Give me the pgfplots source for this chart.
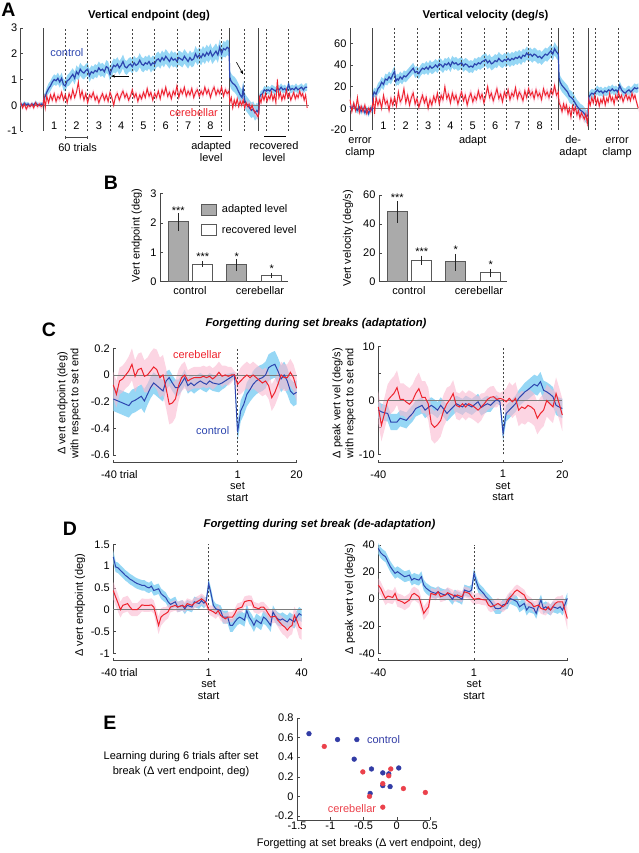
\documentclass[border=0pt]{standalone}
\usepackage{fontspec}
\setmainfont{Liberation Sans}
\usepackage{pgfplots}
\usepackage{pgfplotstable}
\pgfplotsset{compat=1.18}
\usepgfplotslibrary{fillbetween}
\usetikzlibrary{arrows.meta}

\definecolor{cblue}{RGB}{45,70,175}
\definecolor{cred}{RGB}{238,35,45}
\definecolor{bband}{RGB}{150,215,245}
\definecolor{rband}{RGB}{250,185,208}
\definecolor{zgray}{RGB}{125,125,125}
\definecolor{axgray}{RGB}{70,70,70}
\definecolor{bargray}{RGB}{170,170,170}
\definecolor{dblue}{RGB}{50,60,165}
\definecolor{dred}{RGB}{235,65,75}

\newcommand\fs{\fontsize{11}{13}\selectfont}
\newcommand\fst{\fontsize{11.3}{13}\selectfont\bfseries}
\newcommand\fsl{\fontsize{19.5}{20}\selectfont\bfseries}

\pgfplotsset{
  mine/.style={
    scale only axis, clip=false, anchor=south west,
    axis line style={draw=axgray, line width=0.6pt},
    every tick/.style={draw=axgray, line width=0.5pt},
    major tick length=2.5pt, minor tick length=2.5pt, tick align=inside,
    tick label style={font=\fs},
    /pgf/number format/assume math mode=true,
    axis y line*=left, axis x line*=bottom,
    label style={font=\fs},
  },
}
\newcommand\band[3]{%
  \addplot[name path=#3u, draw=none, forget plot] table[x=x, y expr=\thisrow{y}+\thisrow{e}]{#1};
  \addplot[name path=#3l, draw=none, forget plot] table[x=x, y expr=\thisrow{y}-\thisrow{e}]{#1};
  \addplot[#2, draw=none, forget plot] fill between[of=#3u and #3l];}

\begin{document}
% ---------------- Panel A data ----------------
\pgfplotstableread[row sep=\\]{
x y e\\
0 .05 .08\\5 0 .08\\10 .08 .08\\15 .02 .08\\20 .05 .08\\25 -.03 .08\\30 .05 .08\\35 0 .08\\40 .1 .08\\45 .02 .08\\50 0 .08\\55 .05 .08\\60 0 .08\\
62 .25 .15\\66 .35 .15\\70 .5 .18\\75 .65 .2\\80 .75 .2\\85 .9 .2\\90 1.0 .2\\95 .95 .2\\100 1.05 .22\\105 .9 .22\\110 1.05 .22\\115 .8 .22\\120 .75 .22\\125 .95 .22\\130 1.0 .24\\135 1.1 .24\\140 1.2 .24\\145 1.05 .24\\
150 1.3 .25\\155 1.2 .25\\160 1.4 .25\\165 1.3 .25\\170 1.25 .25\\175 1.35 .25\\180 1.4 .25\\185 1.15 .25\\190 1.3 .25\\195 1.25 .25\\200 1.35 .25\\205 1.3 .25\\210 1.45 .25\\215 1.35 .25\\220 1.4 .25\\225 1.3 .25\\230 1.5 .25\\235 1.45 .25\\240 1.2 .25\\
245 1.4 .27\\250 1.55 .27\\255 1.5 .27\\260 1.6 .27\\265 1.45 .27\\270 1.55 .27\\275 1.7 .27\\280 1.5 .27\\285 1.45 .27\\290 1.55 .27\\295 1.6 .27\\300 1.5 .27\\305 1.65 .27\\310 1.55 .27\\315 1.6 .27\\320 1.75 .27\\325 1.6 .27\\330 1.55 .27\\335 1.65 .27\\340 1.6 .27\\345 1.7 .27\\
350 1.55 .28\\355 1.65 .28\\360 1.6 .28\\365 1.75 .28\\370 1.8 .28\\375 1.7 .28\\380 1.85 .28\\385 1.75 .28\\390 1.9 .28\\395 1.8 .28\\400 1.7 .28\\405 1.85 .28\\410 1.75 .28\\415 1.8 .28\\420 1.7 .28\\425 1.85 .28\\430 1.8 .28\\435 1.75 .28\\440 1.9 .28\\445 1.8 .28\\450 1.7 .28\\455 1.85 .28\\460 1.75 .28\\465 1.8 .28\\
470 2.0 .3\\475 1.85 .3\\480 1.95 .3\\485 1.85 .3\\490 2.0 .3\\495 1.9 .3\\500 2.05 .3\\505 1.95 .3\\510 2.1 .3\\515 1.9 .3\\520 2.0 .3\\525 2.1 .3\\530 1.95 .3\\535 2.25 .3\\540 2.0 .3\\545 2.2 .3\\550 2.15 .3\\555 2.25 .3\\560 2.2 .3\\
562 1.1 .3\\565 .95 .3\\570 .85 .3\\575 .8 .3\\580 .7 .3\\585 .55 .3\\590 .4 .3\\595 .3 .3\\598 .65 .3\\602 .2 .3\\605 .1 .3\\610 0 .3\\615 -.1 .3\\620 -.2 .3\\625 -.15 .3\\630 -.3 .3\\635 -.2 .3\\640 -.3 .3\\
642 .3 .15\\645 .4 .15\\650 .45 .15\\655 .6 .15\\660 .55 .15\\665 .6 .15\\670 .55 .15\\675 .65 .15\\680 .6 .15\\685 .55 .15\\690 .65 .15\\695 .6 .15\\700 .7 .15\\705 .6 .15\\710 .65 .15\\715 .55 .15\\720 .8 .15\\725 .6 .15\\730 .65 .15\\735 .6 .15\\740 .7 .15\\745 .6 .15\\750 .65 .15\\755 .7 .15\\760 .6 .15\\765 .7 .15\\770 .7 .15\\
}\AEB
\pgfplotstableread[row sep=\\]{
x y e\\
0 .1 .1\\5 -.1 .1\\10 .05 .1\\15 -.15 .1\\20 0 .1\\25 -.05 .1\\30 .05 .1\\35 -.1 .1\\40 .1 .1\\45 -.05 .1\\50 .05 .1\\55 -.05 .1\\60 0 .1\\
63 .3 .13\\66 -.1 .13\\70 .35 .13\\75 .1 .13\\80 .4 .13\\85 .2 .13\\90 .45 .13\\95 .15 .13\\100 .35 .13\\105 .25 .13\\110 .5 .13\\115 .2 .13\\120 .4 .13\\125 .1 .13\\130 .45 .13\\135 .25 .13\\140 .6 .13\\145 .3 .13\\150 .5 .13\\155 .9 .13\\160 .3 .13\\165 .55 .13\\170 .2 .13\\175 .45 .13\\180 .1 .13\\185 .4 .13\\190 .3 .13\\195 .5 .13\\200 .2 .13\\205 .35 .13\\210 .1 .13\\215 .3 .13\\220 .45 .13\\225 .2 .13\\230 .4 .13\\235 .15 .13\\240 .5 .13\\245 .3 .13\\250 0 .13\\
255 .35 .13\\260 .45 .13\\265 .2 .13\\270 .4 .13\\275 .55 .13\\280 .3 .13\\285 .45 .13\\290 .2 .13\\295 .35 .13\\300 .6 .13\\305 .3 .13\\310 .45 .13\\315 .15 .13\\320 .4 .13\\325 .25 .13\\330 .5 .13\\335 .3 .13\\340 .65 .13\\345 .35 .13\\350 .5 .13\\355 .2 .13\\360 .45 .13\\365 .3 .13\\370 .55 .13\\375 .25 .13\\380 .6 .13\\385 .4 .13\\390 .7 .13\\395 .35 .13\\400 .5 .13\\
405 .25 .13\\410 .55 .13\\415 .4 .13\\420 .75 .13\\425 .3 .13\\430 .6 .13\\435 .45 .13\\440 .7 .13\\445 .35 .13\\450 .55 .13\\455 .4 .13\\460 .65 .13\\465 .3 .13\\470 .5 .13\\475 .6 .13\\480 .35 .13\\485 .55 .13\\490 .4 .13\\495 .7 .13\\500 .45 .13\\505 .6 .13\\510 .3 .13\\515 .55 .13\\520 .7 .13\\525 .4 .13\\530 .6 .13\\535 .45 .13\\540 .7 .13\\545 .35 .13\\550 .6 .13\\555 .45 .13\\560 .55 .13\\
562 .1 .13\\566 .3 .13\\570 -.1 .13\\574 .2 .13\\578 0 .13\\582 .25 .13\\586 -.05 .13\\590 .15 .13\\594 0 .13\\598 .2 .13\\602 -.1 .13\\606 .1 .13\\610 -.05 .13\\614 .05 .13\\618 -.15 .13\\622 0 .13\\626 -.2 .13\\630 -.25 .13\\634 -.35 .13\\638 -.45 .13\\640 -.3 .13\\
642 .3 .12\\646 .1 .12\\650 .4 .12\\654 .2 .12\\658 .45 .12\\662 .15 .12\\666 .35 .12\\670 .25 .12\\674 .5 .12\\678 .2 .12\\682 .4 .12\\686 .1 .12\\690 1.0 .12\\694 .3 .12\\698 .5 .12\\702 .2 .12\\706 .4 .12\\710 .25 .12\\714 .6 .12\\718 .3 .12\\722 .45 .12\\726 .2 .12\\730 .35 .12\\734 .5 .12\\738 .25 .12\\742 .4 .12\\746 .3 .12\\750 .55 .12\\754 .35 .12\\758 .45 .12\\762 .2 .12\\766 .4 .12\\770 -.1 .12\\
}\AER
\pgfplotstableread[row sep=\\]{
x y e\\
0 2 3\\5 -1 3\\10 3 3\\15 0 3\\20 -2 3\\25 1 3\\30 -3 3\\35 0 3\\40 -4 3\\45 -1 3\\50 -5 3\\55 0 3\\60 -2 3\\
62 12 4\\65 15 4\\70 13 5\\75 18 5\\80 20 5\\85 24 5\\90 22 5\\95 27 5\\100 26 5\\105 29 5\\110 27 5\\115 31 5\\120 34 5\\123 25 5\\127 27 5\\130 26 5\\135 29 5\\140 27 5\\145 30 5\\150 29 5\\155 31 5\\160 33 5\\165 35 5\\170 37 5\\175 33 5\\180 34 5\\185 32 5\\190 35 5\\195 37 5\\200 36 5\\
205 38 5.5\\210 36 5.5\\215 39 5.5\\220 37 5.5\\225 38 5.5\\230 40 5.5\\235 38 5.5\\240 41 5.5\\245 40 5.5\\250 38 5.5\\255 41 5.5\\260 40 5.5\\265 42 5.5\\270 39 5.5\\275 43 5.5\\280 41 5.5\\285 42 5.5\\290 40 5.5\\295 41 5.5\\300 42 5.5\\305 39 5.5\\310 41 5.5\\315 40 5.5\\320 38 5.5\\325 39 5.5\\330 38 5.5\\335 41 5.5\\340 40 5.5\\345 42 5.5\\350 41 5.5\\
355 43 6\\360 44 6\\365 45 6\\370 42 6\\375 44 6\\380 41 6\\385 42 6\\390 44 6\\395 43 6\\400 46 6\\405 44 6\\410 43 6\\415 45 6\\420 44 6\\425 46 6\\430 44 6\\435 46 6\\440 45 6\\445 47 6\\450 46 6\\455 48 6\\460 46 6\\465 49 6\\470 48 6\\475 51 6\\480 49 6\\485 50 6\\490 48 6\\495 50 6\\500 49 6\\505 47 6\\510 48 6\\515 46 6\\520 48 6\\525 50 6\\530 49 6\\535 51 6\\540 53 6\\545 50 6\\550 55 6\\555 52 6\\560 50 6\\
562 28 6\\565 24 6\\570 21 6\\575 19 6\\580 17 6\\585 15 6\\590 11 6\\595 10 6\\600 8 6\\605 5 6\\610 2 6\\615 0 6\\620 -2 6\\625 -3 6\\630 -5 6\\635 -8 6\\640 -6 6\\
642 10 4\\645 12 4\\650 14 4\\655 13 4\\660 15 4\\665 17 4\\670 15 4\\675 16 4\\680 14 4\\685 16 4\\690 15 4\\695 17 4\\700 16 4\\705 18 4\\710 16 4\\715 17 4\\720 15 4\\725 21 4\\730 17 4\\735 15 4\\740 14 4\\745 16 4\\750 17 4\\755 15 4\\760 17 4\\765 19 4\\770 18 4\\775 19 4\\
}\AVB
\pgfplotstableread[row sep=\\]{
x y e\\
0 8 3\\5 -3 3\\10 5 3\\15 -2 3\\20 10 3\\25 -4 3\\30 2 3\\35 -3 3\\40 3 3\\45 -5 3\\50 0 3\\55 -3 3\\60 2 3\\
63 8 4\\66 -5 4\\70 10 4\\75 3 4\\80 8 4\\85 0 4\\90 12 4\\95 4 4\\100 7 4\\105 -2 4\\110 9 4\\115 3 4\\120 10 4\\125 2 4\\130 15 4\\135 6 4\\140 9 4\\145 18 4\\150 5 4\\155 12 4\\160 3 4\\165 10 4\\170 14 4\\175 4 4\\180 9 4\\185 1 4\\190 7 4\\195 12 4\\200 5 4\\205 10 4\\210 0 4\\215 8 4\\220 3 4\\225 11 4\\230 6 4\\235 14 4\\240 4 4\\245 12 4\\250 8 4\\
255 20 4\\260 9 4\\265 13 4\\270 5 4\\275 14 4\\280 8 4\\285 12 4\\290 4 4\\295 10 4\\300 15 4\\305 7 4\\310 12 4\\315 3 4\\320 10 4\\325 14 4\\330 6 4\\335 11 4\\340 8 4\\345 16 4\\350 9 4\\355 13 4\\360 5 4\\365 12 4\\370 20 4\\375 10 4\\380 14 4\\385 7 4\\390 12 4\\395 18 4\\400 9 4\\
405 13 4\\410 6 4\\415 15 4\\420 10 4\\425 17 4\\430 8 4\\435 14 4\\440 11 4\\445 19 4\\450 9 4\\455 15 4\\460 12 4\\465 7 4\\470 16 4\\475 10 4\\480 18 4\\485 12 4\\490 15 4\\495 9 4\\500 17 4\\505 11 4\\510 14 4\\515 8 4\\520 18 4\\525 12 4\\530 15 4\\535 10 4\\540 17 4\\545 13 4\\550 21 4\\555 12 4\\560 15 4\\
562 5 4\\566 2 4\\570 -3 4\\574 4 4\\578 -1 4\\582 3 4\\586 -5 4\\590 0 4\\594 -8 4\\598 2 4\\602 -3 4\\606 1 4\\610 -6 4\\614 -2 4\\618 -9 4\\622 -4 4\\626 -7 4\\630 -10 4\\634 -5 4\\638 -14 4\\640 -8 4\\
642 8 3\\646 3 3\\650 10 3\\654 5 3\\658 12 3\\662 4 3\\666 9 3\\670 2 3\\674 8 3\\678 5 3\\682 11 3\\686 3 3\\690 9 3\\694 6 3\\698 14 3\\702 7 3\\706 10 3\\710 4 3\\714 12 3\\718 8 3\\722 15 3\\726 9 3\\730 12 3\\734 6 3\\738 10 3\\742 13 3\\746 8 3\\750 11 3\\754 7 3\\758 14 3\\762 9 3\\766 12 3\\770 6 3\\775 0 3\\
}\AVR
% ---------------- Panel C data ----------------
\pgfplotstableread[row sep=\\]{
x y e\\
0 -.075 .1\\1 -.145 .1\\2 -.045 .1\\3 -.03 .1\\4 0 .1\\5 .03 .11\\6 .08 .12\\7 -.01 .12\\8 .04 .12\\9 .05 .12\\10 -.01 .12\\11 0 .13\\12 .03 .14\\13 .06 .14\\14 .04 .15\\15 -.02 .15\\16 0 .15\\17 -.1 .15\\18 -.22 .15\\19 -.21 .15\\20 -.18 .14\\21 -.08 .12\\22 -.02 .1\\23 0 .1\\24 -.045 .08\\25 -.03 .08\\26 -.02 .08\\27 -.02 .08\\28 -.02 .08\\29 -.01 .08\\30 -.02 .08\\31 -.01 .08\\32 -.03 .08\\33 -.01 .08\\34 .02 .08\\35 -.01 .08\\36 0 .07\\37 -.01 .07\\38 0 .06\\39 0 .03\\
40 -.07 .08\\41 -.045 .1\\42 -.02 .1\\43 0 .1\\44 -.02 .1\\45 0 .1\\46 -.02 .1\\47 -.04 .1\\48 -.06 .1\\49 -.045 .1\\50 -.08 .1\\51 -.17 .1\\52 -.13 .1\\53 -.07 .1\\54 0 .1\\55 -.02 .1\\56 -.02 .1\\57 .02 .1\\58 -.02 .1\\59 -.1 .1\\
}\CER
\pgfplotstableread[row sep=\\]{
x y e\\
0 -.18 .09\\1 -.19 .09\\2 -.2 .09\\3 -.21 .09\\4 -.22 .09\\5 -.23 .09\\6 -.2 .09\\7 -.19 .09\\8 -.175 .09\\9 -.16 .09\\10 -.195 .09\\11 -.145 .08\\12 -.095 .08\\13 -.06 .08\\14 -.08 .08\\15 -.1 .08\\16 -.12 .08\\17 -.045 .07\\18 -.02 .06\\19 -.06 .06\\20 -.095 .06\\21 -.095 .06\\22 -.06 .06\\23 -.02 .06\\24 -.08 .06\\25 -.06 .06\\26 -.08 .06\\27 -.06 .06\\28 -.045 .06\\29 -.06 .06\\30 -.07 .06\\31 -.045 .06\\32 -.06 .06\\33 -.065 .06\\34 -.07 .06\\35 -.06 .05\\36 -.045 .05\\37 -.03 .04\\38 -.015 .03\\39 0 .02\\
40 -.43 .07\\41 -.27 .08\\42 -.22 .08\\43 -.145 .09\\44 -.11 .09\\45 -.07 .1\\46 -.045 .1\\47 -.03 .1\\48 -.02 .1\\49 0 .1\\50 .055 .1\\51 .07 .1\\52 .08 .1\\53 .03 .1\\54 -.03 .1\\55 0 .1\\56 -.045 .1\\57 -.12 .09\\58 -.145 .09\\59 -.13 .09\\
}\CEB
\pgfplotstableread[row sep=\\]{
x y e\\
0 -1.2 3\\1 -4.6 3\\2 -2.4 3\\3 0 3\\4 .7 3.2\\5 1.3 3.2\\6 2.4 3.2\\7 .2 3\\8 .2 3\\9 -.3 3\\10 -.7 3\\11 0 3\\12 1.3 3\\13 2.2 3\\14 .6 3\\15 .6 3\\16 -.6 3\\17 -4.3 3\\18 -5 3\\19 -4.5 3\\20 -3.7 3\\21 -1.8 3\\22 -.6 3\\23 .2 2.5\\24 1.3 2.5\\25 -.9 2.5\\26 -1.2 2.5\\27 -.6 2.5\\28 -1.2 2.5\\29 -.6 2.5\\30 -.9 2.5\\31 -1.3 2.5\\32 -1.8 2.5\\33 -1.2 2.5\\34 -.6 2\\35 .2 2\\36 .6 2\\37 .7 2\\38 .2 1.5\\39 .4 1\\
40 .2 1.5\\41 -.25 2.5\\42 .4 3\\43 -.25 3\\44 .4 3\\45 -1.8 3\\46 -1.2 3\\47 -1.5 3\\48 -.9 3\\49 -1.2 3\\50 -1.7 3\\51 -3.3 3\\52 -2.4 3\\53 -1.8 3\\54 0 3\\55 -.6 3\\56 -1.2 3\\57 1.3 3\\58 -.6 3\\59 -2.7 3\\
}\CVR
\pgfplotstableread[row sep=\\]{
x y e\\
0 -1.8 1.5\\1 -2.1 1.5\\2 -2.3 1.5\\3 -2.4 1.5\\4 -4 1.5\\5 -4 1.5\\6 -4 1.5\\7 -3.3 1.5\\8 -3.5 1.5\\9 -3.7 1.5\\10 -3 1.5\\11 -2.4 1.5\\12 -1.5 1.5\\13 -1.2 1.5\\14 -.9 1.5\\15 -1.8 1.5\\16 -1.3 1.5\\17 -.9 1.5\\18 -1.3 1.5\\19 -1.8 1.5\\20 -.9 1.5\\21 -1.6 1.5\\22 -2.4 1.5\\23 -1.8 1.5\\24 -1.2 1.5\\25 -.6 1.5\\26 -.9 1.5\\27 -1.2 1.5\\28 -.6 1.5\\29 -.9 1.5\\30 -1.2 1.5\\31 -.7 1.5\\32 -.25 1.5\\33 -1.3 1.5\\34 -.9 1.5\\35 -.6 1.5\\36 -.9 1.2\\37 -.3 1\\38 .2 .8\\39 -.25 .6\\
40 -6.1 1.5\\41 -2.4 1.5\\42 -1.8 1.5\\43 -1.2 1.5\\44 -.6 1.5\\45 .4 1.5\\46 1 1.6\\47 1.6 1.7\\48 2 1.8\\49 2.5 1.8\\50 3 1.8\\51 2.7 1.8\\52 3.5 1.8\\53 1.9 1.8\\54 1.6 1.8\\55 1.2 1.8\\56 .7 1.8\\57 -.9 1.8\\58 -1.2 1.8\\59 -1.5 1.8\\
}\CVB
% ---------------- Panel D data ----------------
\pgfplotstableread[row sep=\\]{
x y e\\
0 1.21 .15\\1 .98 .12\\2 .96 .12\\3 .9 .12\\4 .85 .12\\5 .79 .12\\6 .75 .12\\7 .7 .12\\8 .67 .12\\9 .63 .12\\10 .6 .12\\11 .58 .12\\12 .56 .12\\13 .56 .12\\14 .52 .12\\15 .5 .12\\16 .54 .12\\17 .44 .12\\18 .46 .12\\19 .48 .12\\20 .37 .12\\21 .32 .12\\22 .28 .12\\23 .18 .12\\24 .12 .12\\25 .15 .12\\26 .18 .12\\27 .06 .12\\28 .08 .12\\29 .1 .12\\30 .02 .12\\31 .1 .12\\32 .08 .12\\33 .06 .12\\34 .18 .12\\35 .16 .12\\36 .14 .12\\37 .21 .12\\38 .15 .12\\39 .2 .1\\
40 .6 .12\\41 .37 .12\\42 .1 .12\\43 .02 .12\\44 0 .12\\45 -.02 .12\\46 -.17 .15\\47 -.17 .15\\48 -.17 .15\\49 -.36 .15\\50 -.36 .15\\51 -.28 .15\\52 -.21 .15\\53 -.17 .15\\54 -.2 .15\\55 -.24 .15\\56 -.02 .15\\57 -.17 .15\\58 -.25 .15\\59 -.36 .15\\60 -.24 .15\\61 -.28 .15\\62 -.32 .15\\63 -.17 .15\\64 -.21 .15\\65 -.28 .15\\66 -.36 .15\\67 -.05 .15\\68 -.15 .15\\69 -.21 .15\\70 -.24 .15\\71 -.21 .15\\72 -.25 .15\\73 -.28 .15\\74 -.21 .15\\75 -.25 .15\\76 -.28 .15\\77 -.17 .15\\78 -.09 .15\\79 -.13 .15\\
}\DEB
\pgfplotstableread[row sep=\\]{
x y e\\
0 .44 .2\\1 .29 .2\\2 .15 .2\\3 0 .18\\4 .1 .18\\5 .12 .18\\6 .14 .18\\7 .06 .18\\8 0 .15\\9 0 .15\\10 0 .15\\11 .05 .15\\12 .11 .15\\13 .1 .15\\14 .1 .15\\15 .1 .15\\16 .11 .15\\17 .06 .15\\18 -.15 .18\\19 -.36 .2\\20 -.17 .2\\21 -.12 .18\\22 -.09 .15\\23 -.05 .15\\24 .06 .12\\25 .08 .12\\26 .1 .12\\27 .06 .12\\28 .08 .12\\29 .1 .12\\30 .06 .12\\31 .14 .12\\32 .12 .12\\33 .1 .12\\34 .15 .12\\35 .18 .12\\36 .21 .12\\37 .25 .12\\38 .21 .12\\39 .15 .1\\
40 0 .1\\41 -.02 .12\\42 -.05 .12\\43 -.09 .12\\44 -.02 .12\\45 -.13 .12\\46 -.17 .12\\47 -.21 .12\\48 -.17 .12\\49 -.17 .12\\50 -.17 .12\\51 -.09 .12\\52 .02 .12\\53 .04 .12\\54 .06 .12\\55 .18 .12\\56 .2 .12\\57 .21 .12\\58 .2 .12\\59 .06 .12\\60 .04 .12\\61 .02 .12\\62 .06 .12\\63 .06 .12\\64 0 .12\\65 -.09 .15\\66 -.17 .15\\67 -.16 .15\\68 -.15 .15\\69 -.24 .15\\70 -.3 .18\\71 -.36 .2\\72 -.4 .2\\73 -.47 .2\\74 -.4 .2\\75 -.36 .2\\76 -.13 .2\\77 -.25 .2\\78 -.4 .25\\79 -.44 .25\\
}\DER
\pgfplotstableread[row sep=\\]{
x y e\\
0 37.4 4\\1 34.2 4\\2 32.5 4\\3 31.3 4\\4 27.6 4\\5 24 4\\6 21.4 4\\7 19 4\\8 20.2 4\\9 19 4\\10 17.7 4\\11 16.5 4\\12 17 4\\13 17.7 4\\14 14 4\\15 15.3 4\\16 14.5 4\\17 14 4\\18 16.5 4\\19 10.3 4\\20 8 4\\21 6.7 4\\22 5.4 4\\23 4.8 4\\24 4.2 4\\25 5.4 4\\26 4.2 4\\27 3.5 4\\28 3 4\\29 4.2 4\\30 2 4\\31 -.2 4\\32 3 4\\33 1.7 4\\34 1 4\\35 -.2 4\\36 6.7 4\\37 6 4\\38 5.4 4\\39 6.7 4\\
40 19 4\\41 12.8 4\\42 7.9 4\\43 6 4\\44 4.2 4\\45 1.7 4\\46 0 4\\47 -2 4\\48 -4.4 4\\49 -6.9 4\\50 -7 4\\51 -6.9 4\\52 -4.4 4\\53 -3.8 4\\54 -3.2 4\\55 .5 4\\56 -.2 4\\57 -1 4\\58 -2 4\\59 -5.7 4\\60 -4.5 4\\61 -3.2 4\\62 -8.1 4\\63 -5.7 4\\64 -6.3 4\\65 -6.9 4\\66 -10.6 4\\67 -5 4\\68 -.7 4\\69 -6.9 4\\70 -5.7 4\\71 -7 4\\72 -8.1 4\\73 -5.7 4\\74 -6.3 4\\75 -6.9 4\\76 -5.7 4\\77 -8.1 4\\78 -4 4\\79 .5 4\\
}\DVB
\pgfplotstableread[row sep=\\]{
x y e\\
0 10.3 5\\1 7.9 5\\2 4 5\\3 .5 5\\4 2.2 5\\5 1.7 5\\6 1.2 5\\7 4.2 5\\8 -.7 5\\9 -1.3 5\\10 -2 5\\11 -3.2 5\\12 -2 5\\13 -.7 5\\14 3 5\\15 4.2 5\\16 3 5\\17 1.7 5\\18 -4.4 5\\19 -10.6 5\\20 -8 5\\21 -5.7 5\\22 4.2 4\\23 3.6 4\\24 3 4\\25 5.4 4\\26 1.7 4\\27 2.3 4\\28 3 4\\29 4.7 4\\30 3.8 4\\31 3 4\\32 1.7 4\\33 3 4\\34 2.3 4\\35 1.7 4\\36 5.4 4\\37 4.8 4\\38 4.2 4\\39 1.7 4\\
40 -.2 4\\41 .2 4\\42 .5 4\\43 -.2 4\\44 -.5 4\\45 -.7 4\\46 -4.4 4\\47 -5.7 4\\48 -5 4\\49 -4.4 4\\50 -3.2 4\\51 -4.5 4\\52 -5.7 4\\53 -4.4 4\\54 -.7 4\\55 1.2 4\\56 3 4\\57 5.4 4\\58 6.7 4\\59 5.5 4\\60 4.2 4\\61 3 4\\62 -.7 4\\63 -2 4\\64 -3.2 4\\65 -5.7 4\\66 -5 4\\67 -4.4 4\\68 -6.9 4\\69 -7.5 4\\70 -8.1 4\\71 -5.7 4\\72 -8.1 4\\73 -5.5 4\\74 -3.2 4\\75 -2 4\\76 -2 4\\77 -2 5\\78 -8.1 6\\79 -14.3 8\\
}\DVR

\begin{tikzpicture}[x=1pt,y=1pt]

% ================= A left =================
\begin{axis}[mine, at={(20.7pt,722pt)}, width=288.3pt, height=103pt,
  xmin=0, xmax=775, ymin=-1, ymax=3, axis x line=none, ytick={-1,0,1,2,3}]
\band{\AEB}{fill=bband}{aeb}
\band{\AER}{fill=rband, fill opacity=0.7}{aer}
\addplot[zgray, line width=0.6pt] coordinates {(0,0) (775,0)};
\draw[axgray, line width=0.7pt] (axis cs:60,-1) -- (axis cs:60,3) (axis cs:560,-1) -- (axis cs:560,3) (axis cs:640,-1) -- (axis cs:640,3);
\draw[axgray, line width=0.6pt, dash pattern=on 2pt off 2pt] (axis cs:120,-1) -- (axis cs:120,3) (axis cs:180,-1) -- (axis cs:180,3) (axis cs:240,-1) -- (axis cs:240,3) (axis cs:300,-1) -- (axis cs:300,3) (axis cs:360,-1) -- (axis cs:360,3) (axis cs:420,-1) -- (axis cs:420,3) (axis cs:480,-1) -- (axis cs:480,3) (axis cs:540,-1) -- (axis cs:540,3) (axis cs:600,-1) -- (axis cs:600,3) (axis cs:660,-1) -- (axis cs:660,3) (axis cs:720,-1) -- (axis cs:720,3);
\addplot[cblue, line width=1.2pt] table[x=x,y=y]{\AEB};
\addplot[cred, line width=0.9pt] table[x=x,y=y]{\AER};
\node[font=\fs, anchor=base] at (axis cs:90,-0.96) {1};
\node[font=\fs, anchor=base] at (axis cs:150,-0.96) {2};
\node[font=\fs, anchor=base] at (axis cs:210,-0.96) {3};
\node[font=\fs, anchor=base] at (axis cs:270,-0.96) {4};
\node[font=\fs, anchor=base] at (axis cs:330,-0.96) {5};
\node[font=\fs, anchor=base] at (axis cs:390,-0.96) {6};
\node[font=\fs, anchor=base] at (axis cs:450,-0.96) {7};
\node[font=\fs, anchor=base] at (axis cs:510,-0.96) {8};
\draw[axgray, line width=0.6pt] (axis cs:120,-1.19) -- (axis cs:120,-1.31) (axis cs:120,-1.25) -- (axis cs:180,-1.25) (axis cs:180,-1.19) -- (axis cs:180,-1.31);
\node[font=\fs, anchor=base] at (axis cs:153,-1.79) {60 trials};
\draw[black, line width=1.2pt] (axis cs:482,-1.21) -- (axis cs:540,-1.21);
\node[font=\fs, anchor=base] at (axis cs:512,-1.72) {adapted};
\node[font=\fs, anchor=base] at (axis cs:512,-2.17) {level};
\draw[black, line width=1.2pt] (axis cs:655,-1.21) -- (axis cs:713,-1.21);
\node[font=\fs, anchor=base] at (axis cs:681,-1.72) {recovered};
\node[font=\fs, anchor=base] at (axis cs:681,-2.17) {level};
\node[font=\fs, text=cblue] at (axis cs:124,2.03) {control};
\node[font=\fs, text=cred] at (axis cs:465,-0.3) {cerebellar};
\draw[-{Stealth[length=4pt,width=3pt]}, black, line width=0.6pt] (axis cs:290,1.13) -- (axis cs:243,1.13);
\draw[-{Stealth[length=4pt,width=3pt]}, black, line width=0.6pt] (axis cs:580,1.67) -- (axis cs:598,1.2);
\end{axis}

% ================= A right =================
\begin{axis}[mine, at={(350pt,723pt)}, width=288.3pt, height=101.9pt,
  xmin=0, xmax=775, ymin=-20, ymax=74, axis x line=none, ytick={-20,0,20,40,60}]
\band{\AVB}{fill=bband}{avb}
\band{\AVR}{fill=rband, fill opacity=0.7}{avr}
\addplot[zgray, line width=0.6pt] coordinates {(0,0) (775,0)};
\draw[axgray, line width=0.7pt] (axis cs:60,-20) -- (axis cs:60,74) (axis cs:560,-20) -- (axis cs:560,74) (axis cs:640,-20) -- (axis cs:640,74);
\draw[axgray, line width=0.6pt, dash pattern=on 2pt off 2pt] (axis cs:120,-20) -- (axis cs:120,74) (axis cs:180,-20) -- (axis cs:180,74) (axis cs:240,-20) -- (axis cs:240,74) (axis cs:300,-20) -- (axis cs:300,74) (axis cs:360,-20) -- (axis cs:360,74) (axis cs:420,-20) -- (axis cs:420,74) (axis cs:480,-20) -- (axis cs:480,74) (axis cs:540,-20) -- (axis cs:540,74) (axis cs:600,-20) -- (axis cs:600,74) (axis cs:660,-20) -- (axis cs:660,74) (axis cs:720,-20) -- (axis cs:720,74);
\addplot[cblue, line width=1.2pt] table[x=x,y=y]{\AVB};
\addplot[cred, line width=0.9pt] table[x=x,y=y]{\AVR};
\node[font=\fs, anchor=base] at (axis cs:90,-19.4) {1};
\node[font=\fs, anchor=base] at (axis cs:150,-19.4) {2};
\node[font=\fs, anchor=base] at (axis cs:210,-19.4) {3};
\node[font=\fs, anchor=base] at (axis cs:270,-19.4) {4};
\node[font=\fs, anchor=base] at (axis cs:330,-19.4) {5};
\node[font=\fs, anchor=base] at (axis cs:390,-19.4) {6};
\node[font=\fs, anchor=base] at (axis cs:450,-19.4) {7};
\node[font=\fs, anchor=base] at (axis cs:510,-19.4) {8};
\node[font=\fs, anchor=base] at (axis cs:27,-32.3) {error};
\node[font=\fs, anchor=base] at (axis cs:27,-43.7) {clamp};
\node[font=\fs, anchor=base] at (axis cs:330,-32.3) {adapt};
\node[font=\fs, anchor=base] at (axis cs:600,-32.3) {de-};
\node[font=\fs, anchor=base] at (axis cs:600,-43.7) {adapt};
\node[font=\fs, anchor=base] at (axis cs:718,-32.3) {error};
\node[font=\fs, anchor=base] at (axis cs:718,-43.7) {clamp};
\end{axis}

% ================= B left =================
\begin{axis}[mine, at={(160pt,571.3pt)}, width=128pt, height=88.4pt,
  xmin=0, xmax=128, ymin=0, ymax=3, ytick={0,1,2,3},
  xtick={30,100}, xticklabels={control,cerebellar}, xtick style={draw=none},
  xticklabel style={yshift=-1pt},
  ylabel={Vert endpoint (deg)}, ylabel style={at={(axis description cs:-0.182,0.52)}, anchor=center}]
\addplot[ybar, bar width=20, bar shift=0pt, fill=bargray, draw=black!65, line width=0.6pt,
  error bars/.cd, y dir=both, y explicit, error mark=none, error bar style={black!85, line width=0.6pt}]
  coordinates {(18.3,2.04) += (0,0.28) -= (0,0.32) (76.7,0.59) += (0,0.18) -= (0,0.23)};
\addplot[ybar, bar width=20, bar shift=0pt, fill=white, draw=black!65, line width=0.6pt,
  error bars/.cd, y dir=both, y explicit, error mark=none, error bar style={black!85, line width=0.6pt}]
  coordinates {(42.7,0.59) += (0,0.1) -= (0,0.09) (111.7,0.23) += (0,0.07) -= (0,0.1)};
\node[font=\fs, anchor=base] at (axis cs:18.3,2.28) {***};
\node[font=\fs, anchor=base] at (axis cs:42.7,0.71) {***};
\node[font=\fs, anchor=base] at (axis cs:76.7,0.71) {*};
\node[font=\fs, anchor=base] at (axis cs:111.7,0.31) {*};
\draw[fill=bargray, draw=black!65, line width=0.6pt] (axis cs:41.7,2.24) rectangle (axis cs:56,2.63);
\draw[fill=white, draw=black!65, line width=0.6pt] (axis cs:41.7,1.58) rectangle (axis cs:56,1.95);
\node[font=\fs, anchor=west, inner sep=0pt] at (axis cs:61.7,2.43) {adapted level};
\node[font=\fs, anchor=west, inner sep=0pt] at (axis cs:61.7,1.77) {recovered level};
\end{axis}

% ================= B right =================
\begin{axis}[mine, at={(379pt,571.3pt)}, width=128pt, height=86.7pt,
  xmin=0, xmax=128, ymin=0, ymax=60, ytick={0,20,40,60},
  xtick={30,100}, xticklabels={control,cerebellar}, xtick style={draw=none},
  xticklabel style={yshift=-1pt},
  ylabel={Vert velocity (deg/s)}, ylabel style={at={(axis description cs:-0.242,0.5)}, anchor=center}]
\addplot[ybar, bar width=20, bar shift=0pt, fill=bargray, draw=black!65, line width=0.6pt,
  error bars/.cd, y dir=both, y explicit, error mark=none, error bar style={black!85, line width=0.6pt}]
  coordinates {(18.3,48.5) += (0,7.1) -= (0,7.7) (76.7,13.8) += (0,5.4) -= (0,6.2)};
\addplot[ybar, bar width=20, bar shift=0pt, fill=white, draw=black!65, line width=0.6pt,
  error bars/.cd, y dir=both, y explicit, error mark=none, error bar style={black!85, line width=0.6pt}]
  coordinates {(42.7,15) += (0,3) -= (0,3.2) (111.7,6.2) += (0,2.6) -= (0,3.2)};
\node[font=\fs, anchor=base] at (axis cs:18.3,55.8) {***};
\node[font=\fs, anchor=base] at (axis cs:42.7,18.3) {***};
\node[font=\fs, anchor=base] at (axis cs:76.7,19.8) {*};
\node[font=\fs, anchor=base] at (axis cs:111.7,9.2) {*};
\end{axis}

% ================= C left =================
\begin{axis}[mine, at={(113.3pt,390.3pt)}, width=183.3pt, height=114.4pt,
  xmin=0, xmax=59, ymin=-0.658, ymax=0.2, ytick={-0.6,-0.4,-0.2,0,0.2},
  y axis line style={shorten <=7.7pt},
  xtick={0,40,59}, xticklabels={{\makebox[0pt][l]{\hspace*{-12.3pt}-40 trial}},{1\\set\\start},{20}},
  xticklabel style={align=center, yshift=-4.5pt, font=\fontsize{11}{11.5}\selectfont},
  ylabel={Δ vert endpoint (deg)\\with respect to set end},
  ylabel style={align=center, at={(axis description cs:-0.242,0.517)}, anchor=center}]
\band{\CEB}{fill=bband}{ceb}
\band{\CER}{fill=rband, fill opacity=0.6}{cer}
\addplot[zgray, line width=0.6pt] coordinates {(0,0) (59,0)};
\draw[axgray, line width=0.6pt, dash pattern=on 2pt off 2pt] (axis cs:40,-0.6) -- (axis cs:40,0.2);
\addplot[cblue, line width=1pt] table[x=x,y=y]{\CEB};
\addplot[cred, line width=1pt] table[x=x,y=y]{\CER};
\node[font=\fs, text=cred] at (axis cs:27,0.155) {cerebellar};
\node[font=\fs, text=cblue] at (axis cs:32,-0.42) {control};
\end{axis}

% ================= C right =================
\begin{axis}[mine, at={(378.3pt,390.7pt)}, width=184pt, height=115.6pt,
  xmin=0, xmax=59, ymin=-11.49, ymax=10, ytick={-10,0,10}, minor ytick={-5,5},
  y axis line style={shorten <=8pt},
  xtick={0,40,59}, xticklabels={{-40},{1\\set\\start},{20}},
  xticklabel style={align=center, yshift=-4.5pt, font=\fontsize{11}{11.5}\selectfont},
  ylabel={Δ peak vert vel (deg/s)\\with respect to set end},
  ylabel style={align=center, at={(axis description cs:-0.186,0.513)}, anchor=center}]
\band{\CVB}{fill=bband}{cvb}
\band{\CVR}{fill=rband, fill opacity=0.6}{cvr}
\addplot[zgray, line width=0.6pt] coordinates {(0,0) (59,0)};
\draw[axgray, line width=0.6pt, dash pattern=on 2pt off 2pt] (axis cs:40,-10) -- (axis cs:40,10);
\addplot[cblue, line width=1pt] table[x=x,y=y]{\CVB};
\addplot[cred, line width=1pt] table[x=x,y=y]{\CVR};
\end{axis}

% ================= D left =================
\begin{axis}[mine, at={(113.3pt,192.3pt)}, width=188.3pt, height=116.4pt,
  xmin=0, xmax=79, ymin=-1.17, ymax=1.5, ytick={-1,-0.5,0,0.5,1,1.5},
  y axis line style={shorten <=7.4pt},
  xtick={0,40,79}, xticklabels={{\makebox[0pt][l]{\hspace*{-12.3pt}-40 trial}},{1\\set\\start},{40}},
  xticklabel style={align=center, yshift=-4.5pt, font=\fontsize{11}{11.5}\selectfont},
  ylabel={Δ vert endpoint (deg)},
  ylabel style={at={(axis description cs:-0.177,0.478)}, anchor=center}]
\band{\DEB}{fill=bband}{deb}
\band{\DER}{fill=rband, fill opacity=0.6}{der}
\addplot[zgray, line width=0.6pt] coordinates {(0,0) (79,0)};
\draw[axgray, line width=0.6pt, dash pattern=on 2pt off 2pt] (axis cs:40,-1) -- (axis cs:40,1.5);
\addplot[cblue, line width=1pt] table[x=x,y=y]{\DEB};
\addplot[cred, line width=1pt] table[x=x,y=y]{\DER};
\end{axis}

% ================= D right =================
\begin{axis}[mine, at={(378.3pt,192.3pt)}, width=189pt, height=115.8pt,
  xmin=0, xmax=79, ymin=-45.5, ymax=40, ytick={-40,-20,0,20,40},
  y axis line style={shorten <=7.4pt},
  xtick={0,40,79}, xticklabels={{-40},{1\\set\\start},{40}},
  xticklabel style={align=center, yshift=-4.5pt, font=\fontsize{11}{11.5}\selectfont},
  ylabel={Δ peak vert vel (deg/s)},
  ylabel style={at={(axis description cs:-0.15,0.533)}, anchor=center}]
\band{\DVB}{fill=bband}{dvb}
\band{\DVR}{fill=rband, fill opacity=0.6}{dvr}
\addplot[zgray, line width=0.6pt] coordinates {(0,0) (79,0)};
\draw[axgray, line width=0.6pt, dash pattern=on 2pt off 2pt] (axis cs:40,-40) -- (axis cs:40,40);
\addplot[cblue, line width=1pt] table[x=x,y=y]{\DVB};
\addplot[cred, line width=1pt] table[x=x,y=y]{\DVR};
\end{axis}

% ================= E =================
\begin{axis}[mine, at={(297pt,33pt)}, width=133pt, height=102pt,
  xmin=-1.5, xmax=0.5, ymin=-0.241, ymax=0.8,
  xtick={-1.5,-1,-0.5,0,0.5}, ytick={-0.2,0,0.2,0.4,0.6,0.8},
  y axis line style={shorten <=4pt}, xticklabel style={yshift=1.5pt}]
\addplot[only marks, mark=*, mark size=2.4pt, mark options={draw=dblue, fill=dblue}]
  coordinates {(-1.32,0.64) (-0.89,0.58) (-0.6,0.58) (-0.64,0.38) (-0.38,0.28) (-0.21,0.24) (-0.12,0.23) (0.03,0.29) (-0.21,0.11) (-0.1,0.1) (-0.4,0.03)};
\addplot[only marks, mark=*, mark size=2.4pt, mark options={draw=dred, fill=dred}]
  coordinates {(-1.09,0.51) (-0.51,0.25) (-0.09,0.28) (-0.12,0.21) (-0.21,0.13) (-0.41,0.0) (-0.21,-0.11) (0.1,0.08) (0.43,0.04)};
\node[font=\fs, text=dblue, anchor=west] at (axis cs:-0.5,0.575) {control};
\node[font=\fs, text=dred, anchor=west] at (axis cs:-1.09,-0.12) {cerebellar};
\end{axis}

% ================= titles, letters, free labels =================
\node[font=\fst] at (149,837) {Vertical endpoint (deg)};
\node[font=\fst] at (485.5,837) {Vertical velocity (deg/s)};
\node[font=\fst\itshape] at (316,529) {Forgetting during set breaks (adaptation)};
\node[font=\fst\itshape] at (319.5,328) {Forgetting during set break (de-adaptation)};
\node[font=\fsl] at (8.5,843.5) {A};
\node[font=\fsl] at (111,670) {B};
\node[font=\fsl] at (48.8,523) {C};
\node[font=\fsl] at (70,324) {D};
\node[font=\fsl] at (110,130) {E};
\node[font=\fs] at (181,96) {Learning during 6 trials after set};
\node[font=\fs] at (181,81) {break (Δ vert endpoint, deg)};
\node[font=\fs] at (369,9) {Forgetting at set breaks (Δ vert endpoint, deg)};
\pgfresetboundingbox
\path[use as bounding box] (0,0) rectangle (639,853);
\end{tikzpicture}
\end{document}
